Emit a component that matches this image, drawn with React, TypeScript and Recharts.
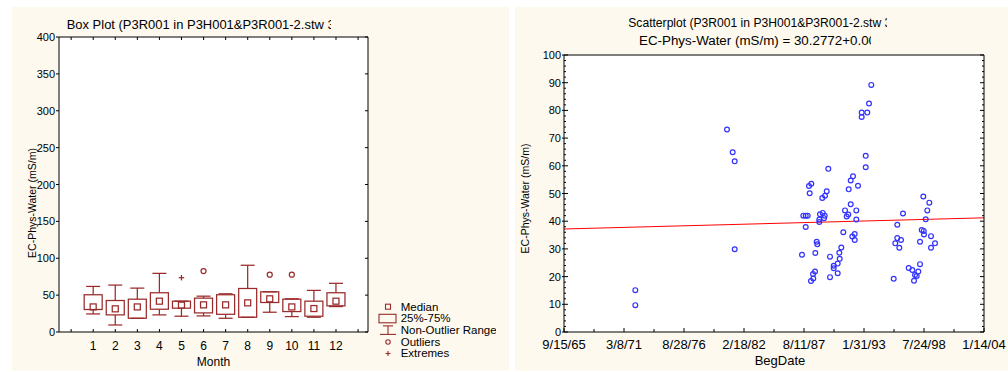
import React from 'react';
import { ComposedChart, Bar, Scatter, XAxis, YAxis, CartesianGrid, ReferenceLine } from 'recharts';

const FONT = '"Liberation Sans", Arial, Helvetica, sans-serif';
const CREAM = '#fdf9ee';
const BOX_COLOR = '#9a2b2b';
const DOT_COLOR = '#3232ff';
const LINE_COLOR = '#ff0000';

// ---------- Box plot data (EC-Phys-Water by Month) ----------
const months = [1, 2, 3, 4, 5, 6, 7, 8, 9, 10, 11, 12];
const whiskerLow = [24.5, 9.5, 18.6, 23.2, 21.4, 21.8, 18.6, 20, 26.8, 20.9, 20, 34.5];
const q1 = [30.5, 23.2, 18.6, 30.9, 32.3, 25.9, 24, 20, 40, 27.7, 21.4, 35.5];
const median = [34, 31.4, 34, 41.8, 36.4, 36.8, 36.8, 39.5, 45, 34, 31.8, 41.8];
const q3 = [50.5, 42.7, 44.5, 53.2, 41.8, 45.9, 50.5, 59, 54.5, 44.5, 41.8, 53.2];
const whiskerHigh = [61.8, 63.6, 59.5, 79.5, 41.8, 48.6, 51.8, 90.5, 54.5, 45, 56.4, 66];
const outliers: (number | null)[] = [null, null, null, null, null, 82.7, null, null, 77.7, 77.7, null, null];
const extremes: (number | null)[] = [null, null, null, null, 73.6, null, null, null, null, null, null, null];
const monthTicks = [0, 1, 2, 3, 4, 5, 6, 7, 8, 9, 10, 11, 12, 13];
const boxYTicks = [0, 50, 100, 150, 200, 250, 300, 350, 400];
const monthDomain: [number, number] = [-0.55, 13.45];
const boxYDomain: [number, number] = [0, 400];

const legendLabels = ['Median', '25%-75%', 'Non-Outlier Range', 'Outliers', 'Extremes'];

// ---------- Scatter data (EC-Phys-Water vs BegDate, date serial numbers) ----------
const begDate = [
  26377, 26377, 29433, 29623, 29690, 29690,
  31933, 31977, 32057, 32123, 32057, 32190, 32167, 32243,
  32233, 32310, 32300, 32367, 32377, 32423, 32443,
  32510, 32510, 32533, 32623, 32690, 32667, 32610, 32700, 32757,
  32810, 32867, 32867, 32990, 32990, 33123, 33123, 33190, 33177, 33243,
  33310, 33367, 33423, 33477, 33490, 33557, 33633, 33800, 33557, 33610,
  33690, 33690, 33743, 33743, 34057, 34057, 33923, 34110, 33923, 34167, 34243,
  34990, 35043, 35110, 35110, 35177, 35233, 35300, 35490, 35610, 35667,
  35700, 35757, 35810, 35867, 35867, 35923, 35990, 36000, 35977, 36057,
  36110, 36177, 36233, 36233, 36367,
];
const ecValues = [
  15.1, 9.7, 73.1, 64.9, 61.6, 29.9,
  27.9, 42.0, 42.0, 42.0, 37.9, 50.1, 52.7, 53.5,
  18.4, 19.3, 20.9, 21.8, 28.5, 32.6, 31.7,
  39.7, 40.6, 42.5, 43.0, 42.0, 41.1, 48.4, 49.2, 50.8,
  58.9, 27.2, 19.8, 23.9, 23.0, 24.7, 21.2, 26.4, 28.6, 30.5,
  36.0, 43.9, 41.7, 42.4, 51.5, 54.7, 56.2, 52.8, 46.1, 34.5,
  35.4, 33.2, 43.9, 40.6, 63.6, 59.5, 79.2, 79.2, 77.6, 82.5, 89.2,
  19.2, 32.0, 33.9, 38.7, 30.4, 33.2, 42.8, 23.1, 22.4, 18.5,
  20.6, 20.2, 21.8, 24.5, 32.6, 36.8, 36.5, 35.2, 48.9, 40.7,
  43.9, 46.7, 34.6, 30.4, 32.0,
];
const dateTicks = [24000, 25000, 26000, 27000, 28000, 29000, 30000, 31000, 32000, 33000, 34000, 35000, 36000, 37000, 38000];
const dateMajorTicks = [24000, 26000, 28000, 30000, 32000, 34000, 36000, 38000];
const dateLabels = ['9/15/65', '3/8/71', '8/28/76', '2/18/82', '8/11/87', '1/31/93', '7/24/98', '1/14/04'];
const ecTicks = [
  0, 2, 4, 6, 8, 10, 12, 14, 16, 18, 20, 22, 24, 26, 28, 30, 32, 34, 36, 38, 40, 42, 44, 46, 48, 50,
  52, 54, 56, 58, 60, 62, 64, 66, 68, 70, 72, 74, 76, 78, 80, 82, 84, 86, 88, 90, 92, 94, 96, 98, 100,
];
const regIntercept = 30.2772;
const regSlope = 0.000288;

const boxData = months.map((m, i) => ({
  month: m,
  range: [whiskerLow[i], whiskerHigh[i]],
  lo: whiskerLow[i],
  q1: q1[i],
  med: median[i],
  q3: q3[i],
  hi: whiskerHigh[i],
  outlier: outliers[i],
  extreme: extremes[i],
}));
const scatterData = begDate.map((d, i) => ({ date: d, ec: ecValues[i] }));
const dateDomain: [number, number] = [24000, 38000];
const regSegment = [
  { x: dateDomain[0], y: regIntercept + regSlope * dateDomain[0] },
  { x: dateDomain[1], y: regIntercept + regSlope * dateDomain[1] },
];

// ---------- Shapes & ticks ----------
function BoxShape(props: any) {
  const { x, y, width, height, payload } = props;
  if (!payload || typeof x !== 'number') return null;
  const top = Math.min(y, y + height);
  const h = Math.abs(height);
  const span = payload.hi - payload.lo;
  const k = span > 0 ? h / span : 0;
  const Y = (v: number) => top + (payload.hi - v) * k;
  const cx = x + width / 2;
  const cap = 7;
  const m = 3;
  return (
    <g stroke={BOX_COLOR} strokeWidth={1.25} fill="none">
      <line x1={cx} x2={cx} y1={Y(payload.hi)} y2={Y(payload.q3)} />
      <line x1={cx} x2={cx} y1={Y(payload.q1)} y2={Y(payload.lo)} />
      <line x1={cx - cap} x2={cx + cap} y1={Y(payload.hi)} y2={Y(payload.hi)} />
      <line x1={cx - cap} x2={cx + cap} y1={Y(payload.lo)} y2={Y(payload.lo)} />
      <rect x={x} y={Y(payload.q3)} width={width} height={Y(payload.q1) - Y(payload.q3)} />
      <rect x={cx - m} y={Y(payload.med) - m} width={2 * m} height={2 * m} />
      {payload.outlier != null && <circle cx={cx} cy={Y(payload.outlier)} r={2.5} />}
      {payload.extreme != null && (
        <g>
          <line x1={cx - 2.7} x2={cx + 2.7} y1={Y(payload.extreme)} y2={Y(payload.extreme)} />
          <line x1={cx} x2={cx} y1={Y(payload.extreme) - 2.7} y2={Y(payload.extreme) + 2.7} />
        </g>
      )}
    </g>
  );
}

const Dot = (p: any) => (
  <circle cx={p.cx} cy={p.cy} r={2.4} fill="none" stroke={DOT_COLOR} strokeWidth={1.2} />
);

const BoxYTick = (p: any) => (
  <g>
    <line x1={p.x - 3} x2={p.x} y1={p.y} y2={p.y} stroke="#000" />
    <text x={p.x - 4} y={p.y + 4} textAnchor="end" fontSize={11} fontFamily={FONT} fill="#000">
      {p.payload.value}
    </text>
  </g>
);
const MonthTick = (p: any) => {
  const v = p.payload.value;
  return (
    <g>
      <line x1={p.x} x2={p.x} y1={p.y} y2={p.y - 3} stroke="#000" />
      {months.includes(v) ? (
        <text x={p.x} y={p.y + 18} textAnchor="middle" fontSize={12} fontFamily={FONT} fill="#000">
          {v}
        </text>
      ) : null}
    </g>
  );
};
const TopTick = (len: (v: number) => number) => (p: any) => (
  <line x1={p.x} x2={p.x} y1={p.y} y2={p.y + len(p.payload.value)} stroke="#000" />
);
const RightTick = (len: (v: number) => number) => (p: any) => (
  <line x1={p.x} x2={p.x - len(p.payload.value)} y1={p.y} y2={p.y} stroke="#000" />
);
const DateTick = (p: any) => {
  const idx = dateMajorTicks.indexOf(p.payload.value);
  const major = idx >= 0;
  return (
    <g>
      <line x1={p.x} x2={p.x} y1={p.y} y2={p.y - (major ? 4 : 3)} stroke="#000" />
      {major ? (
        <text x={p.x} y={p.y + 16.5} textAnchor="middle" fontSize={13} fontFamily={FONT} fill="#000">
          {dateLabels[idx]}
        </text>
      ) : null}
    </g>
  );
};
const EcTick = (p: any) => {
  const v = p.payload.value;
  const major = v % 10 === 0;
  return (
    <g>
      <line x1={major ? p.x - 2 : p.x} x2={p.x + (major ? 4 : 2)} y1={p.y} y2={p.y} stroke="#000" />
      {major ? (
        <text x={p.x - 3} y={p.y + 4} textAnchor="end" fontSize={11} fontFamily={FONT} fill="#000">
          {v}
        </text>
      ) : null}
    </g>
  );
};
const yTitle = (fromLeft: number, fromCenter: number) => (props: any) => {
  const vb = props.viewBox || { x: 0, y: 0, width: 0, height: 0 };
  const cx = vb.x + fromLeft;
  const cy = vb.y + vb.height / 2 + fromCenter;
  return (
    <text
      x={cx}
      y={cy}
      transform={`rotate(-90 ${cx} ${cy})`}
      textAnchor="middle"
      dominantBaseline="central"
      fontSize={10.5}
      fontFamily={FONT}
      fill="#000"
    >
      EC-Phys-Water (mS/m)
    </text>
  );
};

const axisLine = { stroke: '#000' };

function BoxPlot() {
  // frame tick lengths expressed in data units of the axes (about 3 px)
  const topTickLen = 4.1;
  const rightTickLen = 0.136;
  return (
    <ComposedChart width={505} height={372} data={boxData} margin={{ top: 37, right: 137, bottom: 0, left: 0 }}>
      <CartesianGrid horizontal={false} vertical={false} fill="#ffffff" stroke="none" />
      <XAxis
        dataKey="month"
        type="number"
        domain={monthDomain}
        ticks={monthTicks}
        interval={0}
        allowDataOverflow
        height={40}
        tickSize={0}
        tickMargin={0}
        tickLine={false}
        axisLine={axisLine}
        tick={MonthTick}
        label={{ value: 'Month', position: 'insideBottom', offset: 6, fontSize: 12, fill: '#000', fontFamily: FONT }}
      />
      <YAxis
        type="number"
        domain={boxYDomain}
        ticks={boxYTicks}
        interval={0}
        allowDataOverflow
        width={59}
        tickSize={0}
        tickMargin={0}
        tickLine={false}
        axisLine={axisLine}
        tick={BoxYTick}
        label={{ value: 'EC-Phys-Water (mS/m)', content: yTitle(32, 18.5) }}
      />
      <ReferenceLine y={boxYDomain[1]} stroke="#000" strokeWidth={1} />
      <ReferenceLine x={monthDomain[1]} stroke="#000" strokeWidth={1} />
      {monthTicks.map((m) => (
        <ReferenceLine
          key={`t${m}`}
          segment={[
            { x: m, y: boxYDomain[1] },
            { x: m, y: boxYDomain[1] - topTickLen },
          ]}
          stroke="#000"
        />
      ))}
      {boxYTicks.map((v) => (
        <ReferenceLine
          key={`r${v}`}
          segment={[
            { x: monthDomain[1], y: v },
            { x: monthDomain[1] - rightTickLen, y: v },
          ]}
          stroke="#000"
        />
      ))}
      <Bar dataKey="range" barSize={18} isAnimationActive={false} shape={BoxShape} />
    </ComposedChart>
  );
}

function ScatterPlot() {
  return (
    <ComposedChart width={503} height={372} margin={{ top: 54, right: 23, bottom: 0, left: 0 }}>
      <CartesianGrid horizontal={false} vertical={false} fill="#ffffff" stroke="none" />
      <XAxis
        dataKey="date"
        type="number"
        domain={dateDomain}
        ticks={dateTicks}
        interval={0}
        allowDataOverflow
        height={40}
        tickSize={0}
        tickMargin={0}
        tickLine={false}
        axisLine={axisLine}
        tick={DateTick}
        label={{ value: 'BegDate', position: 'insideBottom', offset: 7, dx: 6, fontSize: 13, fill: '#000', fontFamily: FONT }}
      />
      <XAxis
        xAxisId="top"
        orientation="top"
        type="number"
        domain={dateDomain}
        ticks={dateTicks}
        interval={0}
        allowDataOverflow
        height={1}
        tickSize={0}
        tickMargin={0}
        tickLine={false}
        axisLine={axisLine}
        tick={TopTick((v) => (dateMajorTicks.includes(v) ? 4 : 2))}
      />
      <YAxis
        dataKey="ec"
        type="number"
        domain={[0, 100]}
        ticks={ecTicks}
        interval={0}
        allowDataOverflow
        width={59}
        tickSize={0}
        tickMargin={0}
        tickLine={false}
        axisLine={axisLine}
        tick={EcTick}
        label={{ value: 'EC-Phys-Water (mS/m)', content: yTitle(20, 5) }}
      />
      <YAxis
        yAxisId="right"
        orientation="right"
        type="number"
        domain={[0, 100]}
        ticks={ecTicks}
        interval={0}
        allowDataOverflow
        width={1}
        tickSize={0}
        tickMargin={0}
        tickLine={false}
        axisLine={axisLine}
        tick={RightTick((v) => (v % 10 === 0 ? 4 : 2))}
      />
      <ReferenceLine segment={regSegment} stroke={LINE_COLOR} strokeWidth={1} />
      <Scatter data={scatterData} dataKey="ec" isAnimationActive={false} shape={Dot} />
    </ComposedChart>
  );
}

function LegendIcon({ i }: { i: number }) {
  const c = BOX_COLOR;
  if (i === 0) return <rect x={7.5} y={3} width={5} height={5} fill="none" stroke={c} strokeWidth={1.1} />;
  if (i === 1) return <rect x={1} y={1.5} width={17} height={8.5} fill="none" stroke={c} strokeWidth={1.1} />;
  if (i === 2)
    return (
      <g stroke={c} strokeWidth={1.1}>
        <line x1={5} x2={15} y1={1.5} y2={1.5} />
        <line x1={10} x2={10} y1={1.5} y2={10} />
        <line x1={2} x2={18} y1={10} y2={10} />
      </g>
    );
  if (i === 3) return <circle cx={10} cy={6} r={2.2} fill="none" stroke={c} strokeWidth={1.1} />;
  return (
    <g stroke={c} strokeWidth={1.1}>
      <line x1={7.5} x2={12.5} y1={6} y2={6} />
      <line x1={10} x2={10} y1={3.5} y2={8.5} />
    </g>
  );
}

export default function App() {
  const legendBase = [310.7, 322.3, 333.9, 345.5, 357];
  return (
    <div
      style={{
        position: 'fixed',
        left: 0,
        top: 0,
        width: 1008,
        height: 372,
        background: '#ffffff',
        overflow: 'hidden',
        fontFamily: FONT,
      }}
    >
      <div style={{ position: 'absolute', left: 12, top: 7, width: 497, height: 364, background: CREAM }} />
      <div style={{ position: 'absolute', left: 515, top: 7, width: 493, height: 364, background: CREAM }} />
      <div style={{ position: 'absolute', left: 0, top: 0 }}>
        <BoxPlot />
      </div>
      <div style={{ position: 'absolute', left: 505, top: 0 }}>
        <ScatterPlot />
      </div>
      <svg width={1008} height={372} style={{ position: 'absolute', left: 0, top: 0, pointerEvents: 'none' }}>
        <defs>
          <clipPath id="clipTitleL">
            <rect x={0} y={0} width={331} height={40} />
          </clipPath>
          <clipPath id="clipTitleR1">
            <rect x={515} y={0} width={372} height={32} />
          </clipPath>
          <clipPath id="clipTitleR2">
            <rect x={515} y={32} width={356} height={20} />
          </clipPath>
          <clipPath id="clipLegend">
            <rect x={370} y={290} width={126} height={80} />
          </clipPath>
        </defs>
        <text
          x={66.7}
          y={29.3}
          fontSize={13}
          fontFamily={FONT}
          fill="#000"
          textLength={268}
          lengthAdjust="spacingAndGlyphs"
          clipPath="url(#clipTitleL)"
        >
          {'Box Plot (P3R001 in P3H001&P3R001-2.stw 3'}
        </text>
        <text
          x={628.3}
          y={27}
          fontSize={12}
          fontFamily={FONT}
          fill="#000"
          textLength={263}
          lengthAdjust="spacingAndGlyphs"
          clipPath="url(#clipTitleR1)"
        >
          {'Scatterplot (P3R001 in P3H001&P3R001-2.stw 3'}
        </text>
        <text
          x={639}
          y={44.6}
          fontSize={12}
          fontFamily={FONT}
          fill="#000"
          textLength={237}
          lengthAdjust="spacingAndGlyphs"
          clipPath="url(#clipTitleR2)"
        >
          {'EC-Phys-Water (mS/m) = 30.2772+0.00'}
        </text>
        <g clipPath="url(#clipLegend)">
          {legendLabels.map((lab, i) => (
            <g key={lab}>
              <g transform={`translate(378, ${legendBase[i] - 9.5})`}>
                <LegendIcon i={i} />
              </g>
              <text x={400.7} y={legendBase[i]} fontSize={11.5} fontFamily={FONT} fill="#000">
                {lab}
              </text>
            </g>
          ))}
        </g>
      </svg>
    </div>
  );
}
